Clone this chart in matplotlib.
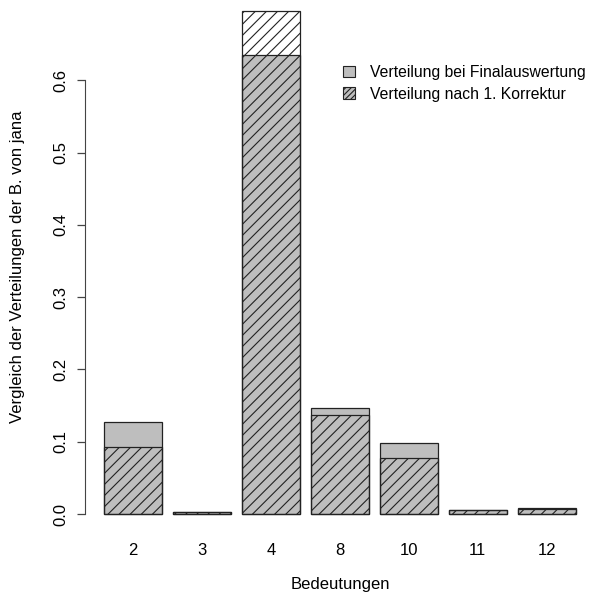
import matplotlib
matplotlib.use("Agg")
import matplotlib.pyplot as plt
from matplotlib.patches import Patch

categories = ["2", "3", "4", "8", "10", "11", "12"]
final_values = [0.127, 0.003, 0.635, 0.146, 0.098, 0.005, 0.008]
korrektur_values = [0.092, 0.003, 0.696, 0.137, 0.078, 0.005, 0.007]
yticks = [0.0, 0.1, 0.2, 0.3, 0.4, 0.5, 0.6]

plt.rcParams['font.family'] = ['Liberation Sans', 'DejaVu Sans']
plt.rcParams['hatch.linewidth'] = 0.8

fig = plt.figure(figsize=(5.96, 5.99), dpi=100)
ax = fig.add_axes([85.4 / 596, 1 - 534 / 599, 509 / 596, 534 / 599])

xs = [0.7 + i * 1.2 for i in range(len(categories))]
ax.bar(xs, final_values, width=1.0, color='#bebebe', edgecolor='#222222', linewidth=0.9)
ax.bar(xs, korrektur_values, width=1.0, fill=False, hatch='///', edgecolor='#222222', linewidth=0.9)

ax.set_xlim(-0.128, 8.728)
ax.set_ylim(-20 / 723, 514 / 723)

for s in ['top', 'right', 'bottom']:
    ax.spines[s].set_visible(False)
ax.spines['left'].set_bounds(0, 0.6)
ax.spines['left'].set_color('#444444')

ax.set_yticks(yticks)
ax.set_yticklabels([f"{v:.1f}" for v in yticks], rotation=90, va='center', fontsize=12)
ax.tick_params(axis='y', length=6, width=0.9, color='#444444', pad=6)
ax.set_xticks(xs)
ax.set_xticklabels(categories, fontsize=12)
ax.tick_params(axis='x', length=0, pad=6.5)

fig.text(340 / 596, 1 - 584 / 599, "Bedeutungen", ha='center', va='center', fontsize=12)
fig.text(18 / 596, 1 - 267 / 599, "Vergleich der Verteilungen der B. von jana",
         ha='center', va='center', rotation=90, fontsize=12)

handles = [Patch(facecolor='#bebebe', edgecolor='#222222', linewidth=0.8),
           Patch(facecolor='#bebebe', edgecolor='#222222', hatch='//////', linewidth=0.8)]
fig.legend(handles, ["Verteilung bei Finalauswertung", "Verteilung nach 1. Korrektur"],
           loc='upper left', bbox_to_anchor=(343 / 596, 1 - 65 / 599),
           bbox_transform=fig.transFigure, borderaxespad=0, borderpad=0,
           frameon=False, fontsize=11.3, handlelength=0.76, handleheight=0.76,
           handletextpad=0.95, labelspacing=0.42)

fig.savefig("out.png", dpi=100)
